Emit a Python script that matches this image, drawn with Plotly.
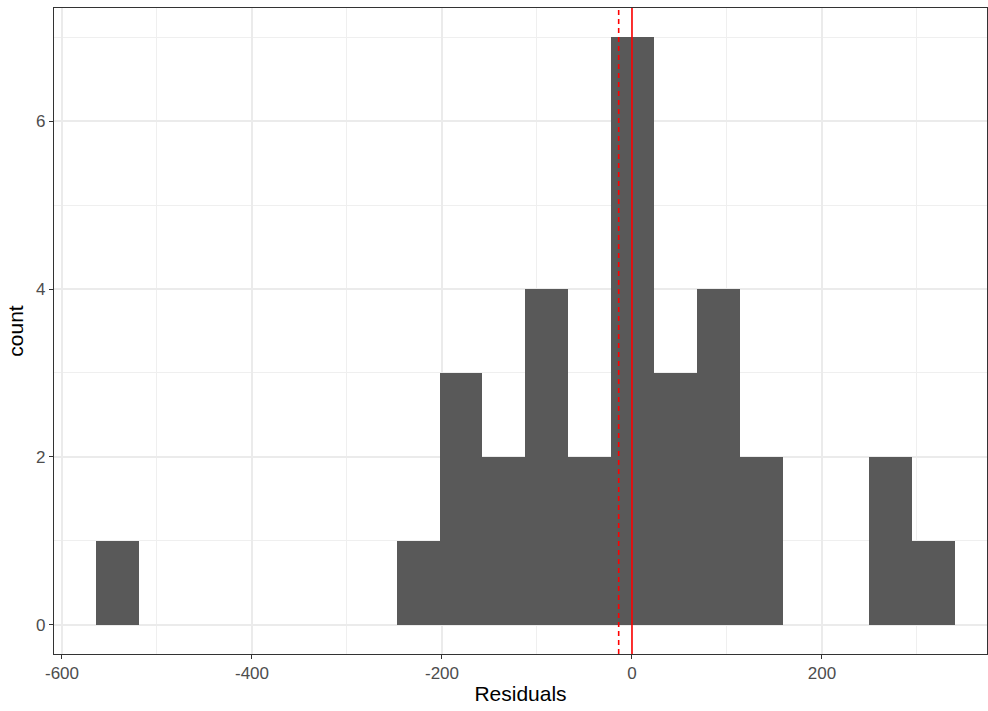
import plotly.graph_objects as go

# Histogram (20 bins) of residuals, pre-binned
bin_centers = [-541.6, -496.4, -451.2, -406.0, -360.8, -315.6, -270.4, -225.2, -180.0, -134.8,
               -89.6, -44.4, 0.8, 46.0, 91.2, 136.4, 181.6, 226.8, 272.0, 317.2]
counts = [1, 0, 0, 0, 0, 0, 0, 1, 3, 2, 4, 2, 7, 3, 4, 2, 0, 0, 2, 1]
bin_width = 45.2

zero_line = [0]
mean_line = [-14]

x_ticks = [-600, -400, -200, 0, 200]
x_tick_labels = ["-600", "-400", "-200", "0", "200"]
y_ticks = [0, 2, 4, 6]
y_tick_labels = ["0", "2", "4", "6"]

fig = go.Figure()
fig.add_trace(go.Bar(
    x=bin_centers, y=counts, width=[bin_width] * len(bin_centers),
    marker=dict(color="#595959", line=dict(width=0)),
    showlegend=False, hoverinfo="x+y",
))

for v in zero_line:
    fig.add_shape(type="line", xref="x", yref="paper", x0=v, x1=v, y0=0, y1=1,
                  line=dict(color="#FF0000", width=1.6))
for v in mean_line:
    fig.add_shape(type="line", xref="x", yref="paper", x0=v, x1=v, y0=0, y1=1,
                  line=dict(color="#FF0000", width=1.6, dash="5px,4px"))

font_family = "Liberation Sans, Arial, sans-serif"
axis_common = dict(
    showline=True, linecolor="#333333", linewidth=1.1, mirror=True,
    ticks="outside", ticklen=4, tickcolor="#333333", tickwidth=1.1,
    gridcolor="#EBEBEB", gridwidth=1.6, zeroline=False,
    tickfont=dict(family=font_family, size=17, color="#4D4D4D"),
)

fig.update_layout(
    width=988, height=711,
    paper_bgcolor="white", plot_bgcolor="white",
    margin=dict(l=54, r=1, t=8, b=57),
    bargap=0,
    xaxis=dict(
        **axis_common,
        range=[-608.4, 373.7],
        tickvals=x_ticks, ticktext=x_tick_labels,
        minor=dict(tickvals=[-500, -300, -100, 100, 300], showgrid=True,
                   gridcolor="#EFEFEF", gridwidth=0.9, ticks=""),
        title=dict(text="Residuals", font=dict(family=font_family, size=21, color="black"), standoff=3),
    ),
    yaxis=dict(
        **axis_common,
        range=[-0.35, 7.35],
        tickvals=y_ticks, ticktext=y_tick_labels,
        minor=dict(tickvals=[1, 3, 5, 7], showgrid=True,
                   gridcolor="#EFEFEF", gridwidth=0.9, ticks=""),
        title=dict(text="count", font=dict(family=font_family, size=21, color="black"), standoff=6),
    ),
)

fig.write_html("out.html")
